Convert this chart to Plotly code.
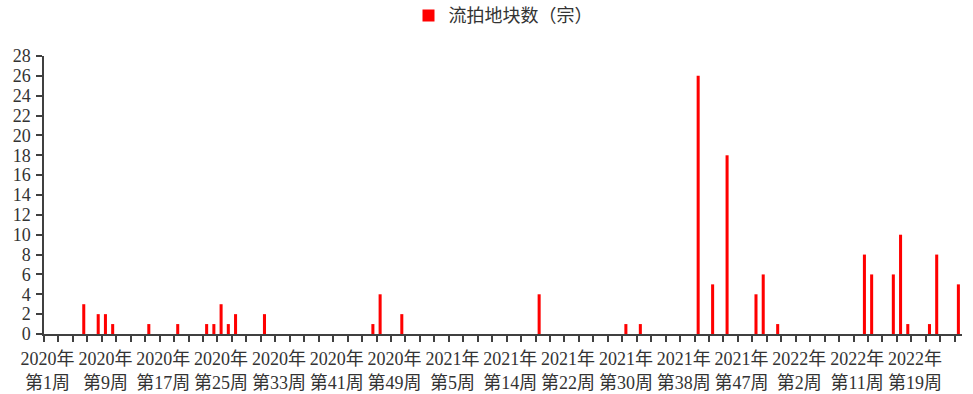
import plotly.graph_objects as go

# Weekly categories (some holiday weeks have no record)
weeks_2020 = list(range(1, 53))
weeks_2021 = list(range(1, 7)) + list(range(8, 40)) + list(range(41, 54))
weeks_2022 = list(range(1, 6)) + list(range(7, 26))

categories = (
    [f"2020年第{w}周" for w in weeks_2020]
    + [f"2021年第{w}周" for w in weeks_2021]
    + [f"2022年第{w}周" for w in weeks_2022]
)

# Weeks with failed land auctions and their counts
failed_weeks = [
    "2020年第6周", "2020年第8周", "2020年第9周", "2020年第10周", "2020年第15周",
    "2020年第19周", "2020年第23周", "2020年第24周", "2020年第25周", "2020年第26周",
    "2020年第27周", "2020年第31周", "2020年第46周", "2020年第47周", "2020年第50周",
    "2021年第18周", "2021年第30周", "2021年第32周", "2021年第41周", "2021年第43周",
    "2021年第45周", "2021年第49周", "2021年第50周", "2021年第52周",
    "2022年第12周", "2022年第13周", "2022年第16周", "2022年第17周", "2022年第18周",
    "2022年第21周", "2022年第22周", "2022年第25周",
]
failed_counts = [
    3, 2, 2, 1, 1,
    1, 1, 1, 3, 1,
    2, 2, 1, 4, 2,
    4, 1, 1, 26, 5,
    18, 4, 6, 1,
    8, 6, 6, 10, 1,
    1, 8, 5,
]

count_map = dict(zip(failed_weeks, failed_counts))
values = [count_map.get(c, 0) for c in categories]
positions = list(range(len(categories)))

label_every = 8
tick_positions = positions[::label_every]
tick_labels = [categories[i].replace("年", "年<br>") for i in tick_positions]

axis_color = "#404040"
font_family = "Liberation Serif, 'Noto Sans CJK SC', serif"

fig = go.Figure(
    go.Bar(
        x=positions,
        y=values,
        customdata=categories,
        hovertemplate="%{customdata}: %{y}<extra></extra>",
        name="流拍地块数（宗）",
        marker=dict(color="#ff0000", line=dict(width=0)),
        width=0.42,
        showlegend=True,
    )
)

fig.update_layout(
    width=973,
    height=394,
    margin=dict(l=44, r=11, t=56, b=60),
    paper_bgcolor="white",
    plot_bgcolor="white",
    font=dict(family=font_family, size=18, color="#333333"),
    legend=dict(
        orientation="h",
        x=0.5,
        xanchor="center",
        y=0.96,
        yanchor="middle",
        yref="container",
        font=dict(size=18),
        itemwidth=30,
    ),
    xaxis=dict(
        range=[-0.5, len(categories) - 0.5],
        tickmode="array",
        tickvals=tick_positions,
        ticktext=tick_labels,
        ticks="",
        ticklabelstandoff=8,
        automargin=False,
        showline=True,
        linecolor=axis_color,
        linewidth=1.5,
        showgrid=False,
        zeroline=False,
        tickfont=dict(size=18),
        minor=dict(
            tickmode="linear",
            tick0=-0.5,
            dtick=2,
            ticks="outside",
            ticklen=6,
            tickwidth=1.5,
            tickcolor=axis_color,
            showgrid=False,
        ),
    ),
    yaxis=dict(
        range=[0, 28],
        dtick=2,
        ticks="outside",
        ticklen=6,
        tickwidth=1.5,
        tickcolor=axis_color,
        ticklabelstandoff=2,
        automargin=False,
        showline=True,
        linecolor=axis_color,
        linewidth=1.5,
        showgrid=False,
        zeroline=False,
        tickfont=dict(size=18),
    ),
)

fig.write_html("out.html")
